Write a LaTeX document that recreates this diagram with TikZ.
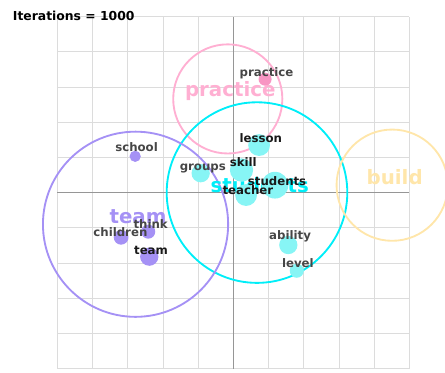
\documentclass[tikz,border=0pt]{standalone}
\usepackage{fontspec}
\setmainfont{DejaVu Sans}
\usetikzlibrary{positioning}

\definecolor{gridgray}{RGB}{220,220,220}
\definecolor{axisgray}{RGB}{150,150,150}
\definecolor{wordgray}{RGB}{70,70,70}
\definecolor{wordblack}{RGB}{25,25,25}
\definecolor{pinktopic}{RGB}{255,175,210}
\definecolor{pinkdot}{RGB}{248,150,195}
\definecolor{cyantopic}{RGB}{0,238,248}
\definecolor{cyandot}{RGB}{135,245,245}
\definecolor{purpletopic}{RGB}{165,145,245}
\definecolor{yellowtopic}{RGB}{255,230,170}

\begin{document}
\begin{tikzpicture}[
  word/.style={font=\bfseries\fontsize{9.5}{11}\selectfont,text=wordgray,inner sep=0pt},
  dark/.style={text=wordblack},
  topic/.style={font=\bfseries\fontsize{16}{18}\selectfont,inner sep=0pt},
  ring/.style={circle,draw=#1,line width=1.5pt,inner sep=0pt},
  dot/.style={circle,fill=#1,inner sep=0pt}]

\useasboundingbox (-6.63,-5.10) rectangle (6.01,5.47);

% grid and axes
\draw[gridgray,line width=0.7pt] (-5,-5) grid (5,5);
\draw[axisgray,line width=0.6pt] (-5,0) -- (5,0) (0,-5) -- (0,5);

\node[font=\bfseries\fontsize{10}{12}\selectfont,anchor=west,inner sep=0pt] (iter) at (-6.27,5.03) {Iterations = 1000};

% topic circles
\node[ring=pinktopic,minimum size=3.10cm]   (cpractice) at (-0.16,2.66)  {};
\node[ring=cyantopic,minimum size=5.13cm]   (cstudents) at (0.67,0)      {};
\node[ring=purpletopic,minimum size=5.26cm] (cteam)     at (-2.78,-0.90) {};
\node[ring=yellowtopic,minimum size=3.16cm] (cbuild)    at (4.51,0.21)   {};

% topic names
\node[topic,text=pinktopic]   (tpractice) at (-0.09,2.89) {practice};
\node[topic,text=cyantopic]   (tstudents) at (0.75,0.21)  {students};
\node[topic,text=purpletopic] (tteam)     at (-2.71,-0.69) {team};
\node[topic,text=yellowtopic] (tbuild)    at (4.58,0.45)  {build};

% word dots
\node[dot=pinkdot,minimum size=0.37cm]     (dpractice) at (0.90,3.22)   {};
\node[dot=purpletopic,minimum size=0.32cm] (dschool)   at (-2.79,1.03)  {};
\node[dot=cyandot,minimum size=0.62cm]     (dlesson)   at (0.73,1.35)   {};
\node[dot=cyandot,minimum size=0.66cm]     (dskill)    at (0.23,0.64)   {};
\node[dot=cyandot,minimum size=0.52cm]     (dgroups)   at (-0.93,0.55)  {};
\node[dot=cyandot,minimum size=0.76cm]     (dstudents) at (1.18,0.21)   {};
\node[dot=cyandot,minimum size=0.62cm]     (dteacher)  at (0.36,-0.07)  {};
\node[dot=cyandot,minimum size=0.52cm]     (dability)  at (1.56,-1.49)  {};
\node[dot=cyandot,minimum size=0.40cm]     (dlevel)    at (1.80,-2.22)  {};
\node[dot=purpletopic,minimum size=0.42cm] (dchildren) at (-3.19,-1.27) {};
\node[dot=purpletopic,minimum size=0.40cm] (dthink)    at (-2.42,-1.11) {};
\node[dot=purpletopic,minimum size=0.52cm] (dteam)     at (-2.39,-1.82) {};

% word labels
\node[word]      (wpractice) at (0.94,3.40)   {practice};
\node[word]      (wschool)   at (-2.75,1.28)  {school};
\node[word,dark] (wlesson)   at (0.78,1.54)   {lesson};
\node[word,dark] (wskill)    at (0.28,0.86)   {skill};
\node[word]      (wgroups)   at (-0.87,0.69)  {groups};
\node[word,dark] (wstudents) at (1.24,0.33)   {students};
\node[word,dark] (wteacher)  at (0.41,0.07)   {teacher};
\node[word]      (wability)  at (1.61,-1.23)  {ability};
\node[word]      (wlevel)    at (1.83,-1.99)  {level};
\node[word]      (wchildren) at (-3.21,-1.13) {children};
\node[word]      (wthink)    at (-2.35,-0.90) {think};
\node[word,dark] (wteam)     at (-2.34,-1.63) {team};

\end{tikzpicture}
\end{document}
